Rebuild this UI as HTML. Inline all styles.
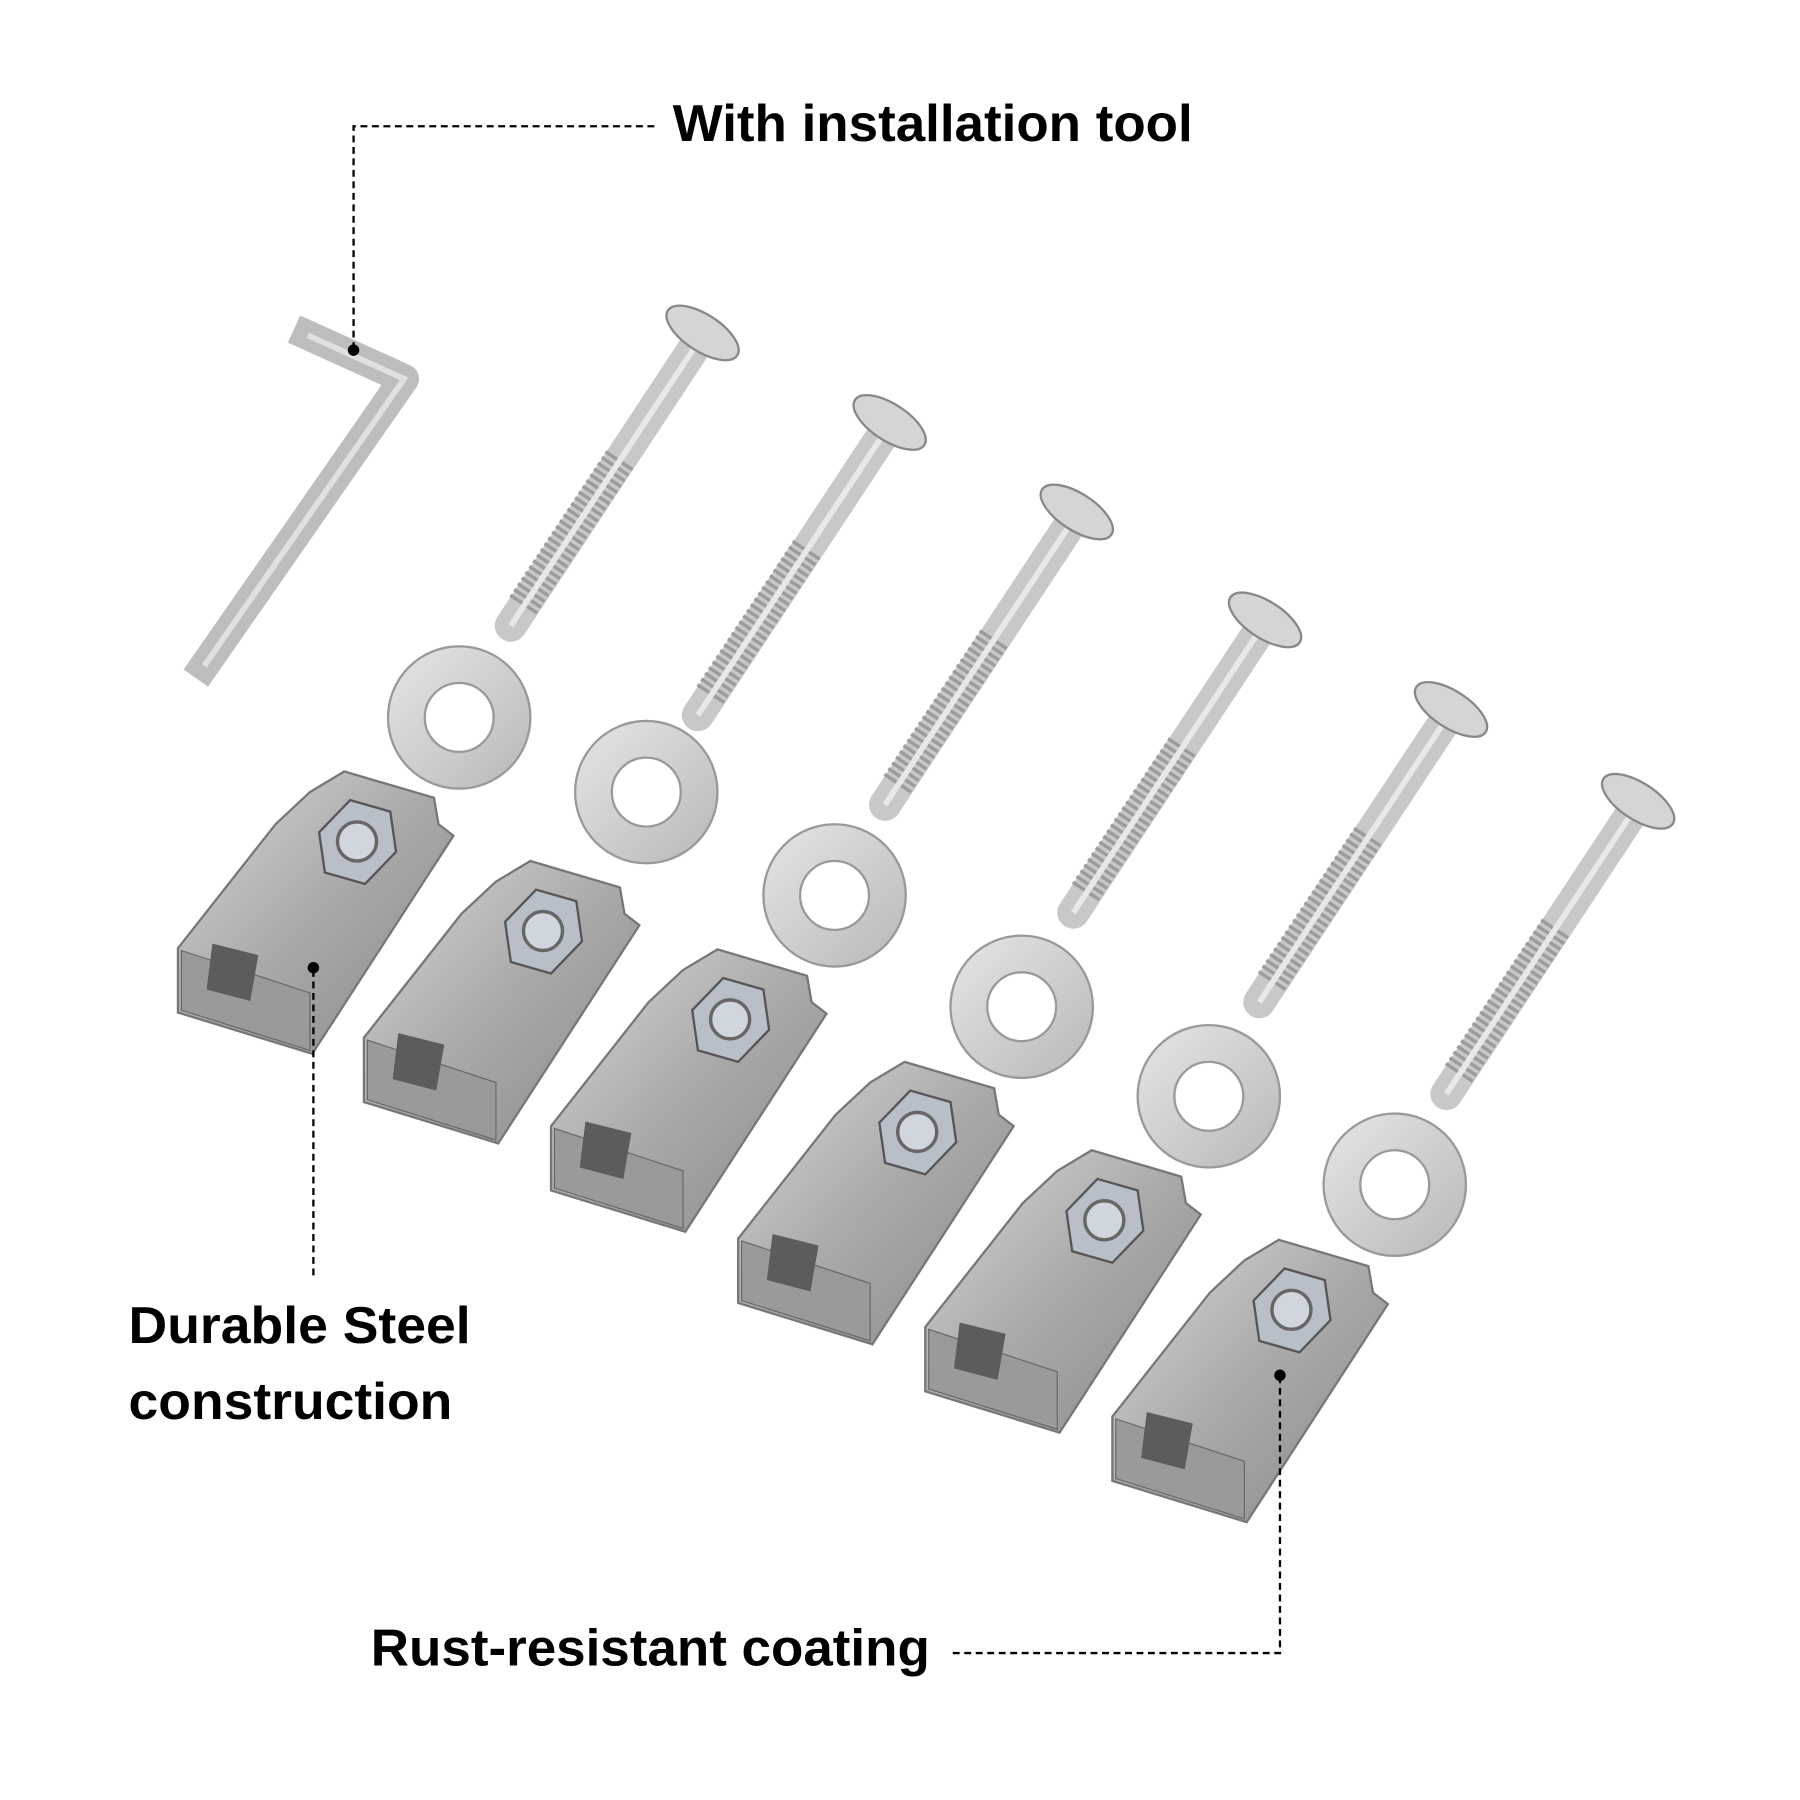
<!DOCTYPE html>
<html><head><meta charset="utf-8"><style>
html,body{margin:0;padding:0;background:#fff;width:1800px;height:1800px;overflow:hidden}
svg{display:block}
text{font-family:"Liberation Sans",Arial,sans-serif;font-weight:bold;fill:#000}
</style></head><body>
<svg width="1800" height="1800" viewBox="0 0 1568 1568" xmlns="http://www.w3.org/2000/svg">
<defs>
<linearGradient id="steel" x1="0" y1="0" x2="1" y2="1">
<stop offset="0" stop-color="#d8d8d8"/><stop offset="0.5" stop-color="#a9a9a9"/><stop offset="1" stop-color="#8a8a8a"/></linearGradient>
<linearGradient id="wash" x1="0" y1="0" x2="1" y2="1">
<stop offset="0" stop-color="#e6e6e6"/><stop offset="1" stop-color="#b8b8b8"/></linearGradient>
<g id="clip">
<polygon points="300,672 378,695 382,718 395,728 272,918 155,882 155,826 240,718 270,690" fill="url(#steel)" stroke="#777" stroke-width="2"/>
<polygon points="158,828 270,865 270,915 158,880" fill="#9a9a9a" stroke="#666" stroke-width="1"/>
<polygon points="185,822 225,832 218,872 180,862" fill="#5c5c5c"/>
<polygon points="305,697 340,707 345,742 318,770 283,760 278,725" fill="#b9bfc8" stroke="#555" stroke-width="2"/>
<circle cx="311" cy="733" r="17" fill="#cfd6de" stroke="#666" stroke-width="3"/>
</g>
<g id="bolt">
<line x1="610" y1="295" x2="445" y2="545" stroke="#c8c8c8" stroke-width="28" stroke-linecap="round"/>
<line x1="540" y1="400" x2="455" y2="528" stroke="#9c9c9c" stroke-width="28" stroke-dasharray="3,3"/>
<line x1="610" y1="295" x2="445" y2="545" stroke="#e8e8e8" stroke-width="5"/>
<ellipse cx="612" cy="290" rx="36" ry="16" transform="rotate(33 612 290)" fill="#d5d5d5" stroke="#888" stroke-width="2"/>
</g>
<g id="washer">
<circle cx="400" cy="625" r="62" fill="url(#wash)" stroke="#999" stroke-width="2"/>
<circle cx="400" cy="625" r="30" fill="#fff" stroke="#999" stroke-width="2"/>
</g>
</defs>

<polyline points="268,292 352,330 178,580" fill="none" stroke="#bdbdbd" stroke-width="26" stroke-linejoin="round" stroke-linecap="square"/>
<polyline points="268,292 352,330 178,580" fill="none" stroke="#e0e0e0" stroke-width="5"/>

<use href="#bolt"/>
<use href="#bolt" transform="translate(163,78)"/>
<use href="#bolt" transform="translate(326,156)"/>
<use href="#bolt" transform="translate(490,250)"/>
<use href="#bolt" transform="translate(652,328)"/>
<use href="#bolt" transform="translate(815,408)"/>

<use href="#washer"/>
<use href="#washer" transform="translate(163,65)"/>
<use href="#washer" transform="translate(327,155)"/>
<use href="#washer" transform="translate(490,252)"/>
<use href="#washer" transform="translate(653,330)"/>
<use href="#washer" transform="translate(815,407)"/>

<use href="#clip"/>
<use href="#clip" transform="translate(162,78)"/>
<use href="#clip" transform="translate(325,155)"/>
<use href="#clip" transform="translate(488,253)"/>
<use href="#clip" transform="translate(651,330)"/>
<use href="#clip" transform="translate(814,408)"/>

<g stroke="#000" stroke-width="2" stroke-dasharray="6,4" fill="none">
<polyline points="570,110 308,110 308,305"/>
<line x1="273" y1="845" x2="273" y2="1115"/>
<polyline points="830,1440 1115,1440 1115,1198"/>
</g>
<circle cx="308" cy="305" r="5" fill="#000"/>
<circle cx="273" cy="843" r="5" fill="#000"/>
<circle cx="1115" cy="1198" r="5" fill="#000"/>

<text x="586" y="123" font-size="45" textLength="453" lengthAdjust="spacingAndGlyphs">With installation tool</text>
<text x="112" y="1170" font-size="45" textLength="298" lengthAdjust="spacingAndGlyphs">Durable Steel</text>
<text x="112" y="1236" font-size="45" textLength="282" lengthAdjust="spacingAndGlyphs">construction</text>
<text x="323" y="1451" font-size="45" textLength="487" lengthAdjust="spacingAndGlyphs">Rust-resistant coating</text>
</svg>
</body></html>
